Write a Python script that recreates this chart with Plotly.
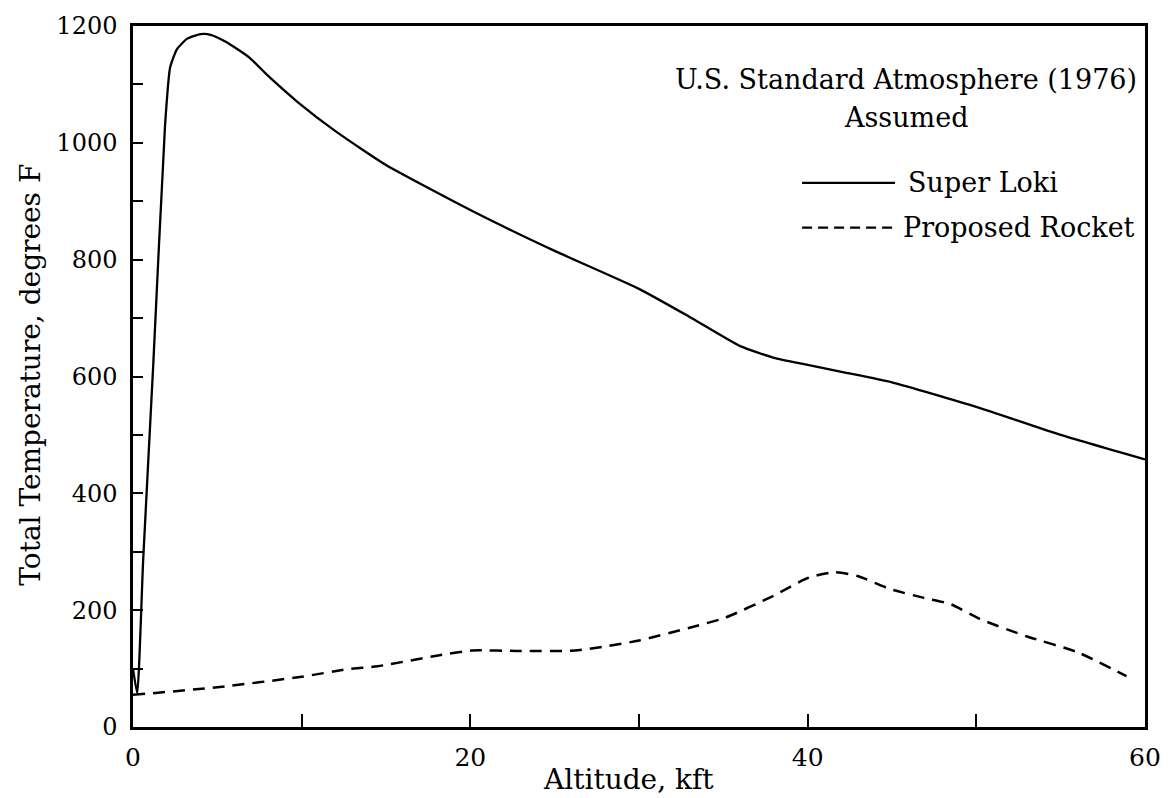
import plotly.graph_objects as go

# Super Loki (solid)
loki_alt = [0.0, 0.25, 0.6, 1.2, 1.9, 2.2, 2.6, 3.2, 4.0, 4.6, 5.5, 6.9, 8.0, 9.8, 12.0, 15.0, 20.0, 25.0, 30.0, 33.0, 36.0, 38.0, 40.0, 42.0, 45.0, 50.0, 55.0, 60.0]
loki_temp = [100, 58, 284, 620, 1030, 1129, 1160, 1178, 1186, 1185, 1173, 1146, 1115, 1069, 1020, 962, 885, 815, 750, 702, 652, 632, 620, 608, 590, 548, 500, 458]

# Proposed Rocket (dashed)
rocket_alt = [0.0, 5.0, 10.0, 12.7, 14.5, 18.0, 20.1, 23.0, 26.2, 28.0, 30.0, 33.0, 35.1, 38.0, 40.0, 41.6, 43.0, 44.9, 46.9, 48.5, 50.2, 53.0, 56.0, 58.9]
rocket_temp = [55, 68, 86, 99, 104, 122, 131, 130, 131, 138, 148, 170, 187, 225, 255, 265, 258, 236, 221, 210, 185, 155, 128, 87]

x_tick_vals = [0, 20, 40, 60]
x_minor_vals = [10, 30, 50]
y_tick_vals = [0, 200, 400, 600, 800, 1000, 1200]
y_minor_vals = [100, 300, 500, 700, 900, 1100]

FONT = "DejaVu Serif"

fig = go.Figure()
fig.add_trace(go.Scatter(x=loki_alt, y=loki_temp, mode="lines", name="Super Loki",
                         line=dict(color="black", width=2.3, shape="spline", smoothing=0.5)))
fig.add_trace(go.Scatter(x=rocket_alt, y=rocket_temp, mode="lines", name="Proposed Rocket",
                         line=dict(color="black", width=2.5, dash="12px,8px", shape="spline", smoothing=0.6)))

W, H = 1173, 798
L, R, T, B = 133, 16, 21, 71
pw, ph = W - L - R, H - T - B

def px(x):
    return (x - L) / pw

def py(y):
    return (H - B - y) / ph

TXT = 27
annotations = [
    dict(text="U.S. Standard Atmosphere (1976)", x=px(1151), y=py(75), xanchor="right", yanchor="middle", size=TXT),
    dict(text="Assumed", x=px(915), y=py(113), xanchor="center", yanchor="middle", size=TXT),
    dict(text="Super Loki", x=px(915), y=py(179), xanchor="left", yanchor="middle", size=TXT),
    dict(text="Proposed Rocket", x=px(910), y=py(224), xanchor="left", yanchor="middle", size=TXT),
    dict(text="Altitude, kft", x=px(634), y=py(780), xanchor="center", yanchor="middle", size=28),
    dict(text="Total Temperature, degrees F", x=px(29), y=py(372), xanchor="center", yanchor="middle", textangle=-90, size=28),
]
for a in annotations:
    s = a.pop("size")
    a.update(xref="paper", yref="paper", showarrow=False, font=dict(family=FONT, size=s, color="black"))

shapes = [
    dict(type="line", xref="paper", yref="paper", x0=px(810), x1=px(904), y0=py(179), y1=py(179),
         line=dict(color="black", width=2.2)),
    dict(type="line", xref="paper", yref="paper", x0=px(810), x1=px(904), y0=py(224), y1=py(224),
         line=dict(color="black", width=2.2, dash="10px,6px")),
]

fig.update_layout(
    width=W, height=H,
    margin=dict(l=L, r=R, t=T, b=B),
    plot_bgcolor="white", paper_bgcolor="white",
    showlegend=False,
    font=dict(family=FONT, size=24, color="black"),
    annotations=annotations,
    shapes=shapes,
)
fig.update_xaxes(range=[0, 60], tickvals=x_tick_vals, ticks="inside", ticklen=13, tickwidth=1.5,
                 tickcolor="black", showline=True, linecolor="black", linewidth=2.5, mirror=True,
                 showgrid=False, zeroline=False, ticklabelstandoff=6,
                 minor=dict(tickvals=x_minor_vals, ticks="inside", ticklen=13, tickwidth=1.5, tickcolor="black"),
                 tickfont=dict(family=FONT, size=25))
fig.update_yaxes(range=[0, 1200], tickvals=y_tick_vals, ticks="inside", ticklen=10, tickwidth=1.5,
                 tickcolor="black", showline=True, linecolor="black", linewidth=2.5, mirror=True,
                 showgrid=False, zeroline=False, ticklabelstandoff=8,
                 minor=dict(tickvals=y_minor_vals, ticks="inside", ticklen=10, tickwidth=1.5, tickcolor="black"),
                 tickfont=dict(family=FONT, size=24))

fig.write_html("out.html")
